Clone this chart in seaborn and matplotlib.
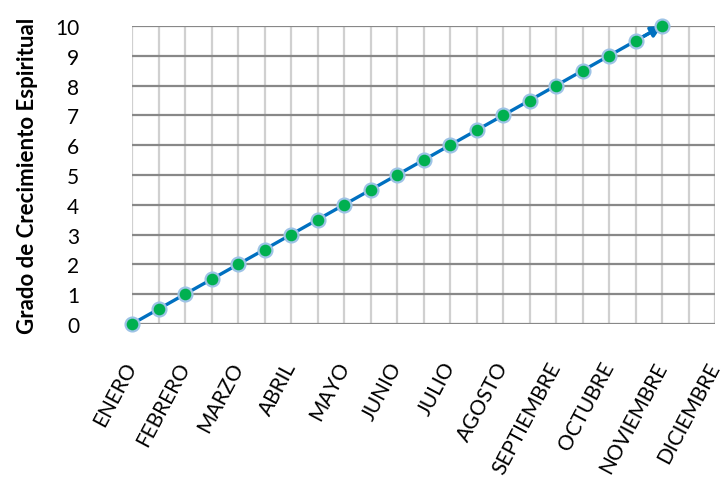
import matplotlib
matplotlib.use("Agg")
import matplotlib.pyplot as plt
import matplotlib.transforms as mtransforms
import seaborn as sns
import pandas as pd

# Month labels shown on the category axis (one every two half-month steps)
months = ["ENERO", "FEBRERO", "MARZO", "ABRIL", "MAYO", "JUNIO",
          "JULIO", "AGOSTO", "SEPTIEMBRE", "OCTUBRE", "NOVIEMBRE", "DICIEMBRE"]

# Half-month step index of each recorded value
steps = [0, 1, 2, 3, 4, 5, 6, 7, 8, 9, 10,
         11, 12, 13, 14, 15, 16, 17, 18, 19, 20]
# Growth level recorded at each step
growth = [0, 0.5, 1, 1.5, 2, 2.5, 3, 3.5, 4, 4.5, 5,
          5.5, 6, 6.5, 7, 7.5, 8, 8.5, 9, 9.5, 10]

y_ticks = [0, 1, 2, 3, 4, 5, 6, 7, 8, 9, 10]
n_steps = 22

df = pd.DataFrame({"paso": steps, "grado": growth})

sns.set_theme(style="white")
plt.rcParams["font.family"] = ["Lato", "DejaVu Sans"]

fig = plt.figure(figsize=(7.22, 4.81), dpi=100)
ax = fig.add_axes([132 / 722, 1 - 325 / 481, (715 - 132) / 722, (325 - 27) / 481])

line_color = "#0070C0"
sns.lineplot(data=df, x="paso", y="grado", ax=ax, color=line_color,
             linewidth=2.4, zorder=3)
ax.annotate("", xy=(steps[-1], growth[-1]), xytext=(steps[-2], growth[-2]),
            arrowprops=dict(arrowstyle="-|>", color=line_color, lw=2.4,
                            mutation_scale=16, shrinkA=0, shrinkB=0),
            zorder=4)
sns.scatterplot(data=df, x="paso", y="grado", ax=ax, s=100, color="#00B050",
                edgecolor="#9DC3E6", linewidth=1.6, zorder=5, clip_on=False)

ax.set_xlim(0, n_steps)
ax.set_ylim(0, 10)

# Light vertical lines at every half-month, darker horizontal lines at each unit
for s in range(n_steps + 1):
    ax.axvline(s, color="#D0D0D0", lw=1.6, zorder=1)
for v in y_ticks:
    ax.axhline(v, color="#888888", lw=1.6, zorder=2)

for side in ["left", "right", "top", "bottom"]:
    ax.spines[side].set_visible(False)

ax.set_xticks(list(range(0, n_steps + 1, 2)))
ax.set_xticklabels(months, rotation=62, ha="right", va="center",
                   rotation_mode="anchor", fontsize=15, color="black")
# nudge the slanted month names a little to the left (the last one a bit more,
# so it stays inside the figure)
labels = ax.get_xticklabels()
for i, lbl in enumerate(labels):
    dx = -9 if i == len(labels) - 1 else -3
    shift = mtransforms.ScaledTranslation(dx / 72, 0, fig.dpi_scale_trans)
    lbl.set_transform(lbl.get_transform() + shift)

ax.set_yticks(y_ticks)
ax.set_yticklabels([str(v) for v in y_ticks], fontsize=15, color="black")
ax.tick_params(axis="x", length=0, pad=28)
ax.tick_params(axis="y", length=0, pad=38)

ax.set_xlabel("")
ax.set_ylabel("Grado de Crecimiento Espiritual", fontsize=16,
              fontweight="bold", color="black", labelpad=12)

fig.savefig("out.png", dpi=100)
